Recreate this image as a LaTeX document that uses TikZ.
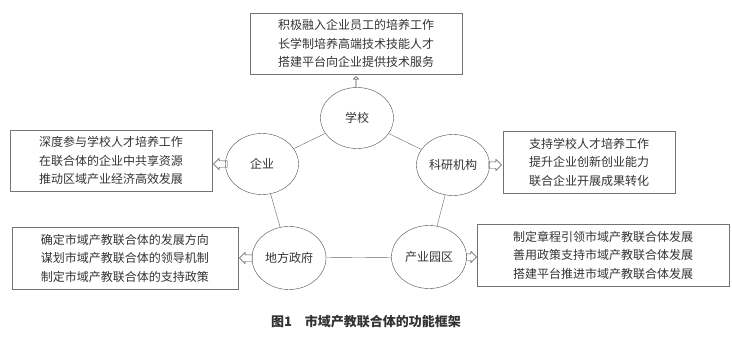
\documentclass[tikz,border=0pt]{standalone}
\usepackage{fontspec}
\newfontfamily\cjk{Noto Sans CJK SC}
\usetikzlibrary{shapes.geometric}
\usetikzlibrary{shapes.arrows}

\begin{document}
\begin{tikzpicture}[x=1pt,y=-1pt,
  role/.style={ellipse, draw=black!70, inner sep=0pt, minimum width=73pt, minimum height=61pt, text=black!80, font=\cjk\fontsize{12pt}{14pt}\selectfont},
  duty/.style={draw=black!55, align=center, inner sep=0pt, text=black!80, font=\cjk\fontsize{12pt}{18.5pt}\selectfont},
  hollow/.style={single arrow, draw=black!70, inner xsep=0pt, inner ysep=3pt, single arrow head extend=2.5pt, minimum height=11pt},
  link/.style={draw=black!60}]

\useasboundingbox (0,0) rectangle (732,345);

% five actors
\node[role] (school) at (357,118) {学校};
\node[role] (firm) at (262,164) {企业};
\node[role] (lab) at (453,165) {科研机构};
\node[role, minimum width=74pt, minimum height=63pt] (gov) at (289,258) {地方政府};
\node[role, minimum width=75pt, minimum height=63pt] (park) at (429,257) {产业园区};

% their functions
\node[duty, minimum width=212pt, minimum height=61pt] (schoolbox) at (356,43.5)
  {积极融入企业员工的培养工作\\长学制培养高端技术技能人才\\搭建平台向企业提供技术服务};
\node[duty, minimum width=202pt, minimum height=61pt] (firmbox) at (111,160.5)
  {深度参与学校人才培养工作\\在联合体的企业中共享资源\\推动区域产业经济高效发展};
\node[duty, minimum width=172pt, minimum height=62pt] (labbox) at (589,162)
  {支持学校人才培养工作\\提升企业创新创业能力\\联合企业开展成果转化};
\node[duty, minimum width=226pt, minimum height=62pt] (govbox) at (125,258)
  {确定市域产教联合体的发展方向\\谋划市域产教联合体的领导机制\\制定市域产教联合体的支持政策};
\node[duty, minimum width=252pt, minimum height=62pt] (parkbox) at (603,255)
  {制定章程引领市域产教联合体发展\\善用政策支持市域产教联合体发展\\搭建平台推进市域产教联合体发展};

% hollow arrows
\node[hollow, shape border rotate=90, anchor=tip] (a1) at ([yshift=-2pt]schoolbox.south) {};
\node[hollow, shape border rotate=180, anchor=tip, minimum height=14pt] (a2) at ([xshift=1pt]firmbox.east |- firm.center) {};
\node[hollow, shape border rotate=0, anchor=tip, minimum height=13pt] (a3) at ([xshift=-1pt]labbox.west |- lab.center) {};
\node[hollow, shape border rotate=180, anchor=tip, minimum height=13pt] (a4) at ([xshift=1pt]govbox.east |- gov.center) {};
\node[hollow, shape border rotate=0, anchor=tip, minimum height=10pt] (a5) at (parkbox.west |- park.center) {};

% links between actors
\draw[link] (school)--(firm);
\draw[link] (school)--(lab);
\draw[link] (firm)--(gov);
\draw[link] (lab)--(park);
\draw[link] (gov)--(park);

\node[font=\cjk\bfseries\fontsize{13pt}{15pt}\selectfont, text=black!80] (cap) at (366,322) {图1　市域产教联合体的功能框架};

\end{tikzpicture}
\end{document}
